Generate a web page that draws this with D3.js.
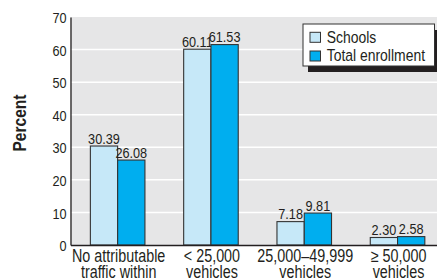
<!DOCTYPE html>
<html><head><meta charset="utf-8">
<script src="https://cdn.jsdelivr.net/npm/d3@7"></script>
<style>
html,body{margin:0;padding:0;background:#fff;}
svg{display:block;}
text{font-family:"Liberation Sans",Arial,sans-serif;fill:#231f20;}
</style></head>
<body><svg id="c" width="437" height="280"></svg>
<script>
const categories = [
  ["No attributable","traffic within"],
  ["< 25,000","vehicles"],
  ["25,000\u201349,999","vehicles"],
  ["\u2265 50,000","vehicles"]
];
const seriesNames = ["Schools","Total enrollment"];
const schools = [30.39, 60.11, 7.18, 2.30];
const enrollment = [26.08, 61.53, 9.81, 2.58];
const schoolLabels = ["30.39","60.11","7.18","2.30"];
const enrollLabels = ["26.08","61.53","9.81","2.58"];
const yTicks = [0,10,20,30,40,50,60,70];
const colors = ["#c6e8f8","#00aeef"];

(function(){
const SX = 0.82; // condensed look
const svg = d3.select("#c");
const mLeft = 70.5, mTop = 17, mBottom = 245, mRight = 437;
const x = d3.scaleBand().domain(d3.range(categories.length)).range([mLeft, mLeft + 93.3*4]).paddingInner(0).paddingOuter(0);
const y = d3.scaleLinear().domain([0,70]).range([mBottom, mTop]);
const inner = d3.scaleBand().domain([0,1]).range([0, x.bandwidth()]).paddingOuter(0.71).paddingInner(0);

function ntext(parent, px, py, str, size, anchor){
  return parent.append("text")
    .attr("transform", `translate(${px},${py}) scale(${SX},1)`)
    .attr("text-anchor", anchor || "start")
    .attr("font-size", size + "px")
    .text(str);
}

// background
svg.append("rect").attr("x", mLeft).attr("y", mTop).attr("width", mRight-mLeft).attr("height", mBottom-mTop).attr("fill","#e6e6e7");
// gridlines
svg.append("g").selectAll("line").data(yTicks.filter(d=>d>0 && d<70)).join("line")
  .attr("x1", mLeft).attr("x2", mRight).attr("y1", d=>y(d)).attr("y2", d=>y(d))
  .attr("stroke","#ffffff").attr("stroke-width",1.5);

// bars
const series = [schools, enrollment];
const labels = [schoolLabels, enrollLabels];
series.forEach((vals, s) => {
  const g = svg.append("g");
  g.selectAll("rect").data(vals).join("rect")
    .attr("x", (d,i)=> x(i) + inner(s) + 0.5)
    .attr("y", d=> y(d))
    .attr("width", inner.bandwidth())
    .attr("height", d=> mBottom - y(d))
    .attr("fill", colors[s]).attr("stroke","#333").attr("stroke-width",1.1);
  vals.forEach((d,i)=>{
    ntext(g, x(i) + inner(s) + 0.5 + inner.bandwidth()/2, y(d) - 2.5, labels[s][i], 15.5, "middle");
  });
});

// y axis
const yAxis = d3.axisLeft(y).tickValues(yTicks).tickSize(0).tickPadding(4);
const ya = svg.append("g").attr("transform",`translate(${mLeft},0)`).call(yAxis);
ya.select(".domain").attr("stroke","#231f20").attr("stroke-width",1.3);
ya.selectAll("text").attr("font-size","15.5px").attr("font-family","Liberation Sans, Arial, sans-serif")
  .attr("fill","#231f20").attr("dy","0.36em").attr("x", -4/SX).attr("transform",`scale(${SX},1)`);

// x axis
const xAxis = d3.axisBottom(x).tickSize(0).tickFormat(()=>"");
const xa = svg.append("g").attr("transform",`translate(0,${mBottom})`).call(xAxis);
xa.select(".domain").attr("stroke","#231f20").attr("stroke-width",1.3);
xa.selectAll(".tick").each(function(d){
  const tk = d3.select(this);
  categories[d].forEach((line,k)=>{
    ntext(tk, 1.5, 16.7 + k*16.6, line, 17.5, "middle");
  });
});

// y label
svg.append("text").attr("transform",`translate(25.5,123) rotate(-90) scale(${SX},1)`)
  .attr("text-anchor","middle").attr("font-size","19px").attr("font-weight","bold").text("Percent");

// legend
const lg = svg.append("g").attr("transform","translate(303,24)");
lg.append("rect").attr("x",5).attr("y",6).attr("width",131.5).attr("height",42).attr("fill","#231f20");
lg.append("rect").attr("x",0).attr("y",0).attr("width",131.5).attr("height",42).attr("fill","#fff").attr("stroke","#333").attr("stroke-width",1);
seriesNames.forEach((n,i)=>{
  lg.append("rect").attr("x",7).attr("y",8.3+i*18.7).attr("width",10.5).attr("height",10).attr("fill",colors[i]).attr("stroke","#333").attr("stroke-width",1);
  ntext(lg, 23.7, 18.7+i*18.5, n, 17, "start");
});
})();
</script></body></html>
